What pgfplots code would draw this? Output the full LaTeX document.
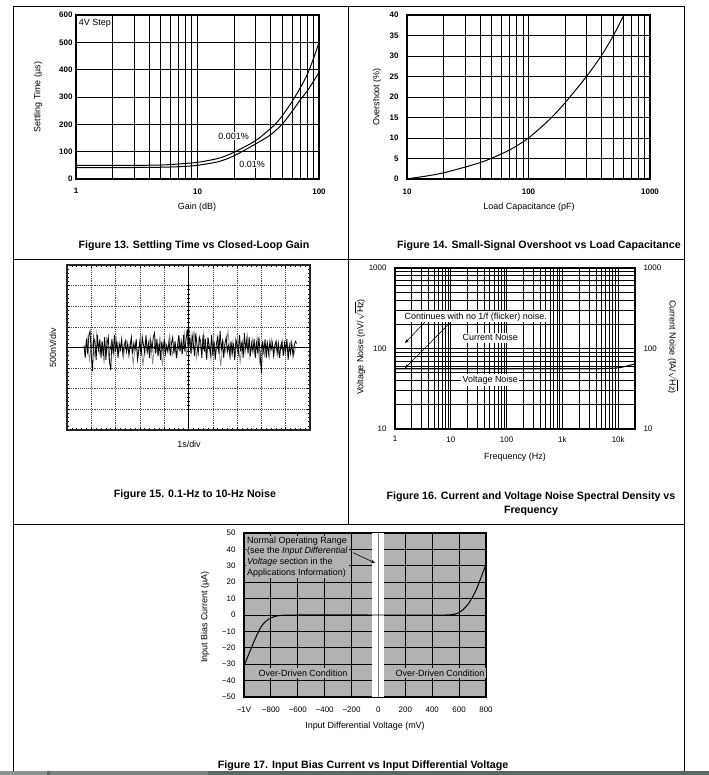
\documentclass[border=0pt]{standalone}
\usepackage{pgfplots}
\pgfplotsset{compat=1.18}
\usepackage{fontspec}
\setmainfont{Liberation Sans}
\usetikzlibrary{arrows.meta}
\newcommand\tk{\fontsize{8}{9.6}\selectfont}
\newcommand\lb{\fontsize{9}{10.8}\selectfont}
\newcommand\ttl{\fontsize{10.7}{13}\selectfont\bfseries}
\newcommand\rtHz{\ensuremath{\sqrt{\mbox{Hz}}}}
\definecolor{bg17}{gray}{0.70}
\pgfplotsset{
  base/.style={scale only axis, anchor=south west,
    axis line style={line width=1.1pt, black},
    grid style={black, line width=0.9pt},
    tick label style={font=\tk},
    /pgf/number format/assume math mode=true,
    major tick length=0pt, minor tick length=0pt},
}
\begin{document}
\begin{tikzpicture}
\useasboundingbox (0bp,0bp) rectangle (709bp,775bp);
% ---------- frame ----------
\draw[line width=1bp] (13bp,4bp) -- (13bp,768bp) -- (684bp,768bp) -- (684bp,4bp);
\draw[line width=1bp] (348bp,768bp) -- (348bp,250bp);
\draw[line width=1bp] (13bp,515bp) -- (684bp,515bp);
\draw[line width=1bp] (13bp,250bp) -- (684bp,250bp);
\fill[color={rgb,255:red,84;green,108;blue,96}] (0bp,0bp) rectangle (709bp,4bp);
\fill[color={rgb,255:red,140;green,150;blue,144}] (0bp,0bp) rectangle (47bp,4bp);
\fill[color={rgb,255:red,120;green,135;blue,126}] (50bp,0bp) rectangle (208bp,4bp);

% ---------- Figure 13 ----------
\begin{axis}[base, at={(76bp,596bp)}, width=243bp, height=164bp,
  xmode=log, xmin=1, xmax=100, ymin=0, ymax=600,
  xtick={1,10,100}, xticklabels={1,10,100}, ytick={0,100,...,600},
  grid=both, tick label style={font=\tk\bfseries},
  xticklabel style={yshift=-6bp}]
\addplot[black, line width=1pt, smooth] coordinates {
 (1,50) (2,50) (3,50) (5,51) (7,55) (10,61) (15,76) (20,98) (30,140) (40,185) (45,207) (50,232) (60,283) (70,333) (80,382) (90,440) (100,500)};
\addplot[black, line width=1pt, smooth] coordinates {
 (1,42) (2,42) (3,42) (5,43) (7,45) (10,50) (15,64) (20,85) (30,128) (40,162) (50,202) (60,247) (70,289) (80,322) (90,357) (100,390)};
\node[fill=white, inner sep=1pt, font=\lb] at (axis cs:19.8,157) {0.001\%};
\node[fill=white, inner sep=1pt, font=\lb] at (axis cs:28.1,55) {0.01\%};
\node[fill=white, inner sep=1.5pt, anchor=north west, font=\lb] at (rel axis cs:0.005,0.985) {4V Step};
\end{axis}
\node[font=\lb] at (197bp,568bp) {Gain (dB)};
\node[font=\lb, rotate=90] at (38bp,678bp) {Settling Time (µs)};
\node[font=\ttl] at (194bp,529bp) {Figure 13. Settling Time vs Closed-Loop Gain};

% ---------- Figure 14 ----------
\begin{axis}[base, at={(407bp,596bp)}, width=243bp, height=164bp,
  xmode=log, xmin=10, xmax=1000, ymin=0, ymax=40,
  xtick={10,100,1000}, xticklabels={10,100,1000}, ytick={0,5,10,15,20,25,30,35,40},
  grid=both, tick label style={font=\tk\bfseries},
  xticklabel style={yshift=-6bp}, yticklabel style={xshift=-5bp}]
\addplot[black, line width=1pt, smooth] coordinates {
 (10,0.02) (15,0.8) (20,1.5) (30,2.9) (40,4) (50,5.1) (70,7.1) (100,10) (150,14.6) (200,18.6) (300,25) (400,30.2) (500,35) (600,39.6)};
\end{axis}
\node[font=\lb] at (529bp,568bp) {Load Capacitance (pF)};
\node[font=\lb, rotate=90] at (377bp,678bp) {Overshoot (\%)};
\node[font=\ttl] at (539bp,529bp) {Figure 14. Small-Signal Overshoot vs Load Capacitance};

% ---------- Figure 15 ----------
\begin{axis}[base, at={(67bp,345bp)}, width=243bp, height=165bp,
  xmin=0, xmax=10, ymin=-4, ymax=4,
  xtick={0,...,10}, ytick={-4,...,4}, minor x tick num=4, minor y tick num=4,
  xticklabels={}, yticklabels={}, tick align=inside,
  major tick length=3bp, minor tick length=2bp,
  tick style={black, line width=0.6pt},
  xmajorgrids, ymajorgrids,
  grid style={densely dotted, black!70, line width=0.6pt},
  axis line style={line width=1.1pt, black!85}]
\addplot[black!45, line width=0.8pt] coordinates {
(0.725,-0.3)(0.825,0.5)(0.925,-0.6)(1.025,0.3)(1.125,-0.4)(1.225,0.7)(1.325,-0.3)(1.425,0.2)(1.525,-0.7)(1.625,0.4)(1.725,-0.5)(1.825,0.3)(1.925,-0.4)(2.025,0.5)(2.125,-0.3)(2.225,0.2)(2.325,-0.5)(2.425,0.4)(2.525,-0.2)(2.625,0.3)(2.725,-0.8)(2.825,0.2)(2.925,-0.4)(3.025,0.6)(3.125,-0.9)(3.225,0.3)(3.325,-0.3)(3.425,0.5)(3.525,-0.8)(3.625,0.4)(3.725,-0.3)(3.825,0.5)(3.925,-0.9)(4.025,0.3)(4.125,-0.2)(4.225,0.6)(4.325,-0.4)(4.425,0.2)(4.525,-0.5)(4.625,0.4)(4.725,-0.3)(4.825,0.7)(4.925,-0.4)(5.025,1.0)(5.125,-0.3)(5.225,0.8)(5.325,-0.5)(5.425,0.4)(5.525,-0.2)(5.625,0.7)(5.725,-0.4)(5.825,0.3)(5.925,-0.6)(6.025,0.5)(6.125,-0.3)(6.225,0.4)(6.325,-0.9)(6.425,0.3)(6.525,-0.2)(6.625,0.8)(6.725,-0.5)(6.825,0.3)(6.925,-0.4)(7.025,0.5)(7.125,-0.7)(7.225,0.3)(7.325,-0.3)(7.425,0.6)(7.525,-0.5)(7.625,0.4)(7.725,-0.3)(7.825,0.5)(7.925,-0.7)(8.025,0.3)(8.125,-0.4)(8.225,0.2)(8.325,-0.5)(8.425,0.4)(8.525,-0.3)(8.625,0.3)(8.725,-0.4)(8.825,0.2)(8.925,-0.3)(9.025,0.3)(9.125,-0.2)(9.225,0.3)(9.325,-0.4)(9.425,0.1)};
\addplot[black, line width=0.8pt] coordinates {
(0.70,0.1)(0.75,-0.5)(0.80,0.4)(0.85,-0.3)(0.90,0.6)(0.95,0.8)(1.00,-0.4)(1.05,-1.15)(1.10,0.5)(1.15,0.2)(1.20,-0.6)(1.25,0.6)(1.30,-0.2)(1.35,0.4)(1.40,-0.5)(1.45,0.3)(1.50,-0.4)(1.55,0.5)(1.60,-0.6)(1.65,0.2)(1.70,0.5)(1.75,-0.7)(1.80,-1.1)(1.85,0.4)(1.90,-0.3)(1.95,0.6)(2.00,-0.2)(2.05,0.3)(2.10,-0.5)(2.15,0.2)(2.20,-0.1)(2.25,0.4)(2.30,-0.3)(2.35,0.1)(2.40,0.3)(2.45,-0.2)(2.50,0.2)(2.55,-0.4)(2.60,0.1)(2.65,0.5)(2.70,-0.3)(2.75,0.2)(2.80,-0.1)(2.85,0.4)(2.90,-0.6)(2.95,-0.2)(3.00,0.3)(3.05,-0.4)(3.10,0.5)(3.15,0.1)(3.20,-0.3)(3.25,0.6)(3.30,-0.2)(3.35,0.2)(3.40,-0.5)(3.45,0.3)(3.50,-0.1)(3.55,0.5)(3.60,0.7)(3.65,-0.3)(3.70,0.4)(3.75,-0.4)(3.80,0.2)(3.85,-0.6)(3.90,0.3)(3.95,-0.2)(4.00,0.4)(4.05,-0.3)(4.10,0.1)(4.15,-0.2)(4.20,0.3)(4.25,-0.4)(4.30,0.2)(4.35,0.5)(4.40,-0.3)(4.45,0.3)(4.50,-0.5)(4.55,0.1)(4.60,0.6)(4.65,-0.2)(4.70,0.3)(4.75,-0.3)(4.80,0.6)(4.85,-0.2)(4.90,0.4)(4.95,0.9)(5.00,-0.1)(5.05,0.5)(5.10,-0.3)(5.15,0.6)(5.20,0.2)(5.25,-0.4)(5.30,0.7)(5.35,0.1)(5.40,-0.3)(5.45,0.5)(5.50,0.3)(5.55,-0.5)(5.60,0.6)(5.65,-0.2)(5.70,0.4)(5.75,-0.6)(5.80,0.5)(5.85,0.1)(5.90,-0.3)(5.95,0.6)(6.00,-0.4)(6.05,0.3)(6.10,-0.6)(6.15,0.2)(6.20,0.5)(6.25,-0.3)(6.30,0.8)(6.35,-0.1)(6.40,0.3)(6.45,-0.5)(6.50,0.2)(6.55,0.5)(6.60,-0.2)(6.65,0.1)(6.70,-0.4)(6.75,0.3)(6.80,-0.3)(6.85,0.2)(6.90,-0.6)(6.95,0.4)(7.00,0.1)(7.05,-0.3)(7.10,0.6)(7.15,-0.2)(7.20,0.3)(7.25,-0.5)(7.30,0.7)(7.35,-0.1)(7.40,0.4)(7.45,-0.3)(7.50,0.5)(7.55,-0.4)(7.60,0.2)(7.65,-0.2)(7.70,0.4)(7.75,-0.5)(7.80,0.3)(7.85,-0.3)(7.90,0.5)(7.95,-0.4)(8.00,-1.25)(8.05,0.3)(8.10,-0.2)(8.15,0.4)(8.20,-0.5)(8.25,0.2)(8.30,-0.3)(8.35,0.3)(8.40,-0.1)(8.45,0.2)(8.50,-0.4)(8.55,0.1)(8.60,0.3)(8.65,-0.3)(8.70,0.2)(8.75,-0.5)(8.80,0.1)(8.85,0.3)(8.90,-0.4)(8.95,0.2)(9.00,-0.2)(9.05,0.4)(9.10,-0.6)(9.15,0.1)(9.20,-0.3)(9.25,0.2)(9.30,-0.4)(9.35,0.1)(9.40,0.3)(9.45,0.2)};
\end{axis}
\begin{axis}[scale only axis, anchor=south west, at={(67bp,345bp)}, width=243bp, height=165bp,
  xmin=-5, xmax=5, ymin=-4, ymax=4, axis lines=middle,
  axis line style={-, black, line width=0.9pt},
  xtick={-4,...,4}, ytick={-3,...,3}, minor x tick num=4, minor y tick num=4,
  xticklabels={}, yticklabels={}, tick align=center,
  major tick length=4bp, minor tick length=3bp, tick style={black, line width=0.6pt}]
\end{axis}
\node[font=\lb] at (189bp,331bp) {1s/div};
\node[font=\lb, rotate=90] at (53bp,427bp) {500nV/div};
\node[font=\ttl] at (195bp,280bp) {Figure 15. 0.1-Hz to 10-Hz Noise};

% ---------- Figure 16 ----------
\begin{axis}[base, at={(395bp,346bp)}, width=240bp, height=161bp,
  xmode=log, ymode=log, xmin=1, xmax=20000, ymin=10, ymax=1000,
  xtick={1,10,100,1000,10000}, xticklabels={1,10,100,1k,10k},
  ytick={10,100,1000}, yticklabels={10,100,1000},
  grid=both, grid style={black, line width=0.75pt},
  xticklabel style={yshift=-4bp}, yticklabel style={xshift=-5bp}]
\addplot[black, line width=1.1pt] coordinates {(1,100) (20000,100)};
\addplot[black, line width=1.1pt, smooth] coordinates {(1,56) (3000,56) (6000,56.5) (10000,57.5) (15000,61) (20000,64.5)};
\node[fill=white, inner sep=1.5pt, font=\lb] at (axis cs:28,248) {Continues with no 1/f (flicker) noise.};
\node[fill=white, inner sep=1.5pt, font=\lb] at (axis cs:51,136) {Current Noise};
\node[fill=white, inner sep=1.5pt, font=\lb] at (axis cs:51,40.8) {Voltage Noise};
\draw[black, line width=0.6pt, -{Stealth[length=4bp,width=3bp]}] (axis cs:3.46,214) -- (axis cs:1.51,117);
\draw[black, line width=0.6pt, -{Stealth[length=4bp,width=3bp]}] (axis cs:9.7,209) -- (axis cs:1.51,57);
\end{axis}
\begin{axis}[base, at={(395bp,346bp)}, width=240bp, height=161bp,
  xmode=log, ymode=log, xmin=1, xmax=20000, ymin=10, ymax=1000,
  axis x line=none, axis y line*=right,
  ytick={10,100,1000}, yticklabels={10,100,1000},
  yticklabel style={xshift=5bp}]
\end{axis}
\node[font=\lb] at (515bp,318bp) {Frequency (Hz)};
\node[font=\lb, rotate=90] at (360bp,428bp) {Voltage Noise (nV/\rtHz)};
\node[font=\lb, rotate=-90] at (673bp,428bp) {Current Noise (fA/\rtHz)};
\node[font=\ttl] at (531bp,278bp) {Figure 16. Current and Voltage Noise Spectral Density vs};
\node[font=\ttl] at (531bp,264bp) {Frequency};

% ---------- Figure 17 ----------
\begin{axis}[base, at={(244bp,78bp)}, width=242bp, height=164bp,
  xmin=-1000, xmax=800, ymin=-50, ymax=50,
  xtick={-1000,-800,...,800},
  xticklabels={−1V,−800,−600,−400,−200,0,200,400,600,800},
  ytick={-50,-40,...,50},
  yticklabels={−50,−40,−30,−20,−10,0,10,20,30,40,50},
  grid=major, grid style={black, line width=0.8pt},
  axis background/.style={fill=bg17},
  xticklabel style={yshift=-6bp}, yticklabel style={xshift=-5bp}]
\fill[white] (axis cs:-48,-50) rectangle (axis cs:41,50);
\draw[black!55, line width=1.4pt] (axis cs:0,-50) -- (axis cs:0,50);
\node[anchor=north west, fill=bg17, inner sep=1pt, align=left, font=\lb] at (axis cs:-985,48.5)
  {Normal Operating Range\\(see the \textit{Input Differential}\\\textit{Voltage} section in the\\Applications Information)};
\node[fill=bg17, inner sep=1.5pt, font=\lb] at (axis cs:-561,-35.5) {Over-Driven Condition};
\node[fill=bg17, inner sep=1.5pt, font=\lb] at (axis cs:458,-35.5) {Over-Driven Condition};
\draw[black, line width=0.6pt, -{Stealth[length=4bp,width=3bp]}] (axis cs:-189,38) -- (axis cs:-26,31.8);
\addplot[black, line width=1pt, smooth] coordinates {
 (-1000,-31) (-975,-26) (-950,-21) (-925,-16) (-900,-11.5) (-875,-7.5) (-850,-4.8) (-825,-3) (-800,-1.8) (-775,-1.0) (-750,-0.5) (-700,-0.1) (-600,0) (0,0) (500,0) (540,0.2) (580,0.8) (600,1.5) (625,3) (650,5) (675,7.5) (700,11) (725,15) (750,20) (775,25.5) (800,31)};
\end{axis}
\node[font=\lb] at (365bp,49bp) {Input Differential Voltage (mV)};
\node[font=\lb, rotate=90] at (205bp,158bp) {Input Bias Current (µA)};
\node[font=\ttl] at (363bp,9bp) {Figure 17. Input Bias Current vs Input Differential Voltage};
\end{tikzpicture}
\end{document}
